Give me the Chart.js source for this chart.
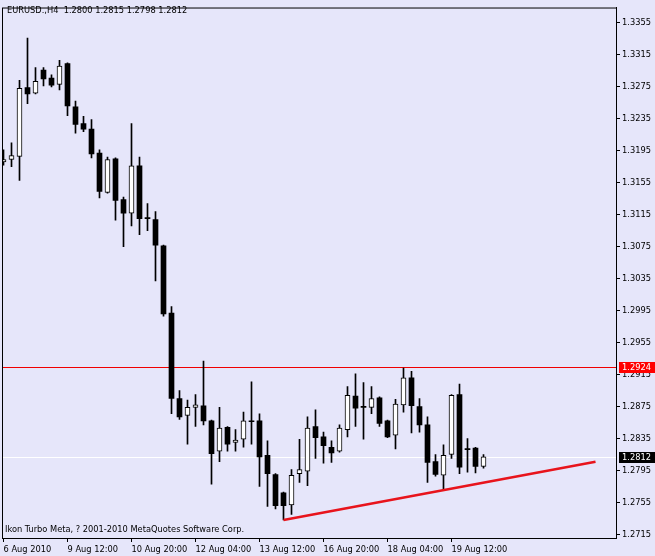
<!DOCTYPE html>
<html>
<head>
<meta charset="utf-8">
<script src="https://cdn.jsdelivr.net/npm/chart.js@4.4.1/dist/chart.umd.min.js"></script>
<style>
html,body{margin:0;padding:0;background:#e6e6fa;}
canvas{display:block;}
</style>
</head>
<body>
<canvas id="c" width="655" height="556"></canvas>
<script>
// ---- data (H4 candles, EURUSD) ----
const symbolLabel = 'EURUSD.,H4';
const copyrightText = 'Ikon Turbo Meta, ? 2001-2010 MetaQuotes Software Corp.';

const opens = [
  1.3181, 1.3184, 1.3188, 1.3274, 1.3267, 1.3296, 1.3286, 1.3278, 1.3304, 1.3250,
  1.3229, 1.3222, 1.3192, 1.3143, 1.3185, 1.3134, 1.3117, 1.3176, 1.3111, 1.3109,
  1.3076, 1.2992, 1.2885, 1.2864, 1.2874, 1.2876, 1.2857, 1.2819, 1.2849, 1.2830,
  1.2834, 1.2857, 1.2857, 1.2814, 1.2790, 1.2767, 1.2752, 1.2791, 1.2794, 1.2850,
  1.2837, 1.2824, 1.2819, 1.2846, 1.2888, 1.2875, 1.2874, 1.2886, 1.2857, 1.2839,
  1.2877, 1.2911, 1.2875, 1.2852, 1.2806, 1.2789, 1.2815, 1.2890, 1.2822, 1.2823,
  1.2800
];
const highs = [
  1.3196, 1.3205, 1.3283, 1.3336, 1.3299, 1.3299, 1.3290, 1.3308, 1.3305, 1.3257,
  1.3238, 1.3234, 1.3196, 1.3187, 1.3186, 1.3137, 1.3229, 1.3187, 1.3129, 1.3119,
  1.3077, 1.3000, 1.2895, 1.2883, 1.2890, 1.2932, 1.2858, 1.2874, 1.2850, 1.2846,
  1.2868, 1.2906, 1.2866, 1.2832, 1.2791, 1.2768, 1.2796, 1.2834, 1.2862, 1.2871,
  1.2843, 1.2832, 1.2852, 1.2900, 1.2916, 1.2905, 1.2900, 1.2887, 1.2858, 1.2884,
  1.2923, 1.2919, 1.2885, 1.2862, 1.2815, 1.2827, 1.2890, 1.2903, 1.2835, 1.2824,
  1.2815
];
const lows = [
  1.3177, 1.3175, 1.3158, 1.3254, 1.3266, 1.3276, 1.3275, 1.3271, 1.3239, 1.3217,
  1.3219, 1.3186, 1.3136, 1.3142, 1.3108, 1.3075, 1.3101, 1.3090, 1.3095, 1.3032,
  1.2988, 1.2866, 1.2859, 1.2828, 1.2850, 1.2852, 1.2778, 1.2806, 1.2819, 1.2819,
  1.2824, 1.2828, 1.2775, 1.2750, 1.2747, 1.2733, 1.2740, 1.2780, 1.2776, 1.2810,
  1.2804, 1.2805, 1.2818, 1.2837, 1.2850, 1.2834, 1.2866, 1.2850, 1.2836, 1.2822,
  1.2868, 1.2842, 1.2843, 1.2780, 1.2788, 1.2770, 1.2810, 1.2791, 1.2793, 1.2792,
  1.2798
];
const closes = [
  1.3184, 1.3189, 1.3273, 1.3266, 1.3282, 1.3285, 1.3277, 1.3301, 1.3251, 1.3228,
  1.3222, 1.3191, 1.3144, 1.3184, 1.3133, 1.3117, 1.3176, 1.3110, 1.3110, 1.3077,
  1.2991, 1.2885, 1.2862, 1.2874, 1.2877, 1.2857, 1.2816, 1.2848, 1.2828, 1.2833,
  1.2857, 1.2856, 1.2812, 1.2791, 1.2751, 1.2751, 1.2789, 1.2796, 1.2848, 1.2836,
  1.2826, 1.2817, 1.2848, 1.2889, 1.2873, 1.2874, 1.2885, 1.2854, 1.2837, 1.2878,
  1.2911, 1.2876, 1.2852, 1.2805, 1.2790, 1.2814, 1.2889, 1.2799, 1.2821, 1.2800,
  1.2812
];

const xTickIndex  = [0, 8, 16, 24, 32, 40, 48, 56];
const xTickLabels = ['6 Aug 2010', '9 Aug 12:00', '10 Aug 20:00', '12 Aug 04:00',
                     '13 Aug 12:00', '16 Aug 20:00', '18 Aug 04:00', '19 Aug 12:00'];
const yTickValues = [1.2715, 1.2755, 1.2795, 1.2835, 1.2875, 1.2915, 1.2955, 1.2995,
                     1.3035, 1.3075, 1.3115, 1.3155, 1.3195, 1.3235, 1.3275, 1.3315, 1.3355];

const levelPrice  = 1.2924;            // horizontal red line
const trendIndex  = [35, 74];          // trend line anchors (bar index)
const trendPrice  = [1.2733, 1.2806];  // trend line anchors (price)

// ---- style ----
const BG = '#e6e6fa';
const FONT = '"DejaVu Sans Condensed", "Liberation Sans", Arial, sans-serif';
const FSIZE = 9.2;

// ---- build datasets from arrays ----
const last = opens.length - 1;
const bidPrice = closes[last];
const wicks = [], bull = [], bear = [];
opens.forEach((o, i) => {
  wicks.push({ x: i, y: [lows[i], highs[i]] });
  if (closes[i] > o) bull.push({ x: i, y: [o, closes[i]] });
  else bear.push({ x: i, y: [o, closes[i]] });
});
const trend = trendIndex.map((x, k) => ({ x, y: trendPrice[k] }));

function hLine(chart, value, color) {
  const { ctx, chartArea: a, scales: { y } } = chart;
  const py = Math.round(y.getPixelForValue(value)) + 0.5;
  ctx.save();
  ctx.strokeStyle = color;
  ctx.lineWidth = 1;
  ctx.beginPath(); ctx.moveTo(a.left, py); ctx.lineTo(a.right, py); ctx.stroke();
  ctx.restore();
}

const decor = {
  id: 'decor',
  beforeDraw(chart) {
    const ctx = chart.ctx;
    ctx.save();
    ctx.fillStyle = BG;
    ctx.fillRect(0, 0, chart.width, chart.height);
    ctx.restore();
  },
  beforeDatasetsDraw(chart) {
    hLine(chart, bidPrice, '#ffffff');
    hLine(chart, levelPrice, '#f00000');
  },
  afterDraw(chart) {
    const { ctx, chartArea: a, scales: { y } } = chart;
    ctx.save();
    ctx.strokeStyle = '#000';
    ctx.lineWidth = 1;
    ctx.strokeRect(a.left + 0.5, a.top + 0.5, a.right - a.left, a.bottom - a.top);
    ctx.font = FSIZE + 'px ' + FONT;
    ctx.textBaseline = 'middle';
    ctx.fillStyle = '#000';
    ctx.textAlign = 'left';
    const head = symbolLabel + '  ' + [opens[last], highs[last], lows[last], closes[last]]
      .map(v => v.toFixed(4)).join(' ');
    ctx.fillText(head, 7, 11);
    ctx.fillText(copyrightText, 5, 530);
    // price boxes on the axis
    const boxes = [[levelPrice, '#ff0000'], [bidPrice, '#000000']];
    boxes.forEach(([v, col]) => {
      const py = Math.round(y.getPixelForValue(v));
      ctx.fillStyle = col;
      ctx.fillRect(619, py - 5, 36, 11);
      ctx.fillStyle = '#ffffff';
      ctx.fillText(v.toFixed(4), 622, py + 0.5);
    });
    ctx.restore();
  }
};

new Chart(document.getElementById('c'), {
  data: {
    datasets: [
      { type: 'line', data: trend, borderColor: '#e8141c', borderWidth: 2.5,
        pointRadius: 0, fill: false, order: 0 },
      { type: 'bar', data: bull, backgroundColor: '#ffffff', borderColor: '#000000',
        borderWidth: 1, borderSkipped: false, barThickness: 5, grouped: false,
        minBarLength: 1, order: 1 },
      { type: 'bar', data: bear, backgroundColor: '#000000', borderColor: '#000000',
        borderWidth: 0, borderSkipped: false, barThickness: 5, grouped: false,
        minBarLength: 1, order: 1 },
      { type: 'bar', data: wicks, backgroundColor: '#000000', borderWidth: 0,
        barThickness: 1, grouped: false, order: 2 }
    ]
  },
  options: {
    responsive: false,
    animation: false,
    devicePixelRatio: 1,
    layout: { padding: { left: 2, top: 2, right: 0, bottom: 0 } },
    plugins: { legend: { display: false }, tooltip: { enabled: false } },
    scales: {
      x: {
        type: 'linear', min: -0.1875, max: 76.5625, offset: false,
        afterBuildTicks: s => { s.ticks = xTickIndex.map(v => ({ value: v })); },
        afterFit: s => { s.height = 18; },
        grid: { display: true, drawOnChartArea: false, drawTicks: true, tickLength: 4,
                color: '#000', offset: false },
        border: { display: true, color: '#000' },
        ticks: { align: 'start', autoSkip: false, maxRotation: 0, minRotation: 0,
                 padding: 2, color: '#000', font: { family: FONT, size: FSIZE },
                 callback: v => { const k = xTickIndex.indexOf(v); return k >= 0 ? xTickLabels[k] : ''; } }
      },
      y: {
        type: 'linear', position: 'right', min: 1.27105, max: 1.33742,
        afterBuildTicks: s => { s.ticks = yTickValues.map(v => ({ value: v })); },
        afterFit: s => { s.width = 39; },
        grid: { display: true, drawOnChartArea: false, drawTicks: true, tickLength: 4, color: '#000' },
        border: { display: true, color: '#000' },
        ticks: { autoSkip: false, padding: 2, color: '#000', font: { family: FONT, size: FSIZE },
                 callback: v => Number(v).toFixed(4) }
      }
    }
  },
  plugins: [decor]
});
</script>
</body>
</html>
